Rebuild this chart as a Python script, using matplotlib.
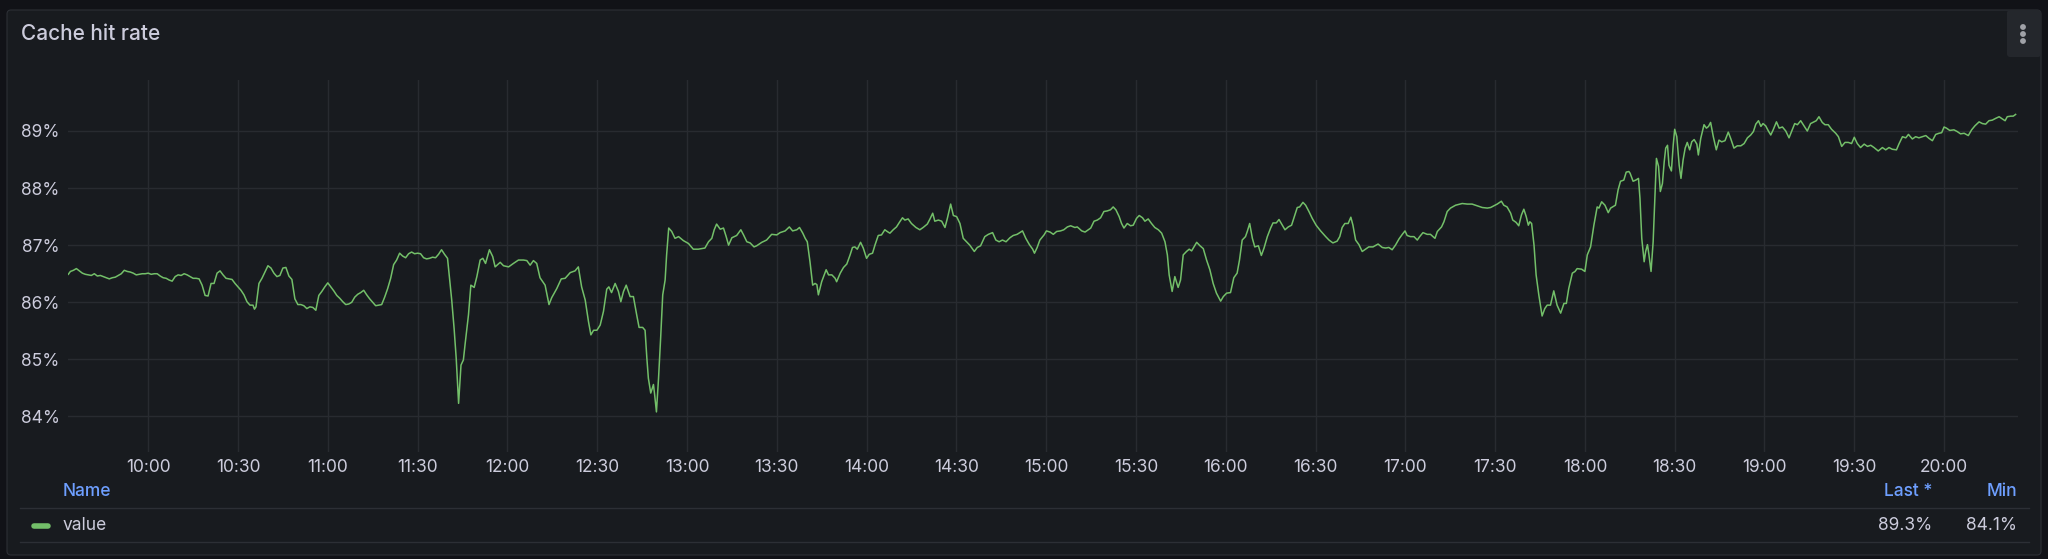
import matplotlib.pyplot as plt
import matplotlib.dates as mdates
import pandas as pd
from matplotlib.patches import FancyBboxPatch
from matplotlib.ticker import FixedLocator, FuncFormatter

plt.rcParams["font.family"] = ["Inter", "DejaVu Sans"]

title = "Cache hit rate"
series_name = "value"
day_start = pd.Timestamp("2024-01-01 10:00")

# minutes relative to 10:00
minutes_from_10 = [
    -26.7, -26, -25, -24, -23, -22, -21, -20, -19, -18, -17, -16, -15, -14, -13, -12, -11, -10, -9, -8,
    -7, -6, -5, -4, -3, -2, -1, 0, 1, 2, 3, 4, 5, 6, 7, 8, 9, 10, 11, 12,
    13, 14, 15, 16, 17, 18, 19, 20, 21, 22, 23, 24, 25, 26, 27, 28, 29, 30, 31, 32,
    33, 34, 35, 35.5, 36, 37, 38, 39, 40, 41, 42, 43, 44, 45, 46, 47, 48, 49, 50, 51,
    52, 53, 54, 55, 56, 57, 58, 59, 60, 61, 62, 63, 64, 65, 66, 67, 68, 69, 70, 71,
    72, 73, 74, 75, 76, 77, 78, 79, 80, 81, 82, 83, 84, 85, 86, 87, 88, 89, 90, 91,
    92, 93, 94, 95, 96, 97, 98, 99, 100,
    101.4, 102.2, 102.9, 103.7, 104.5, 105.3, 105.9, 107.0, 107.8, 108.9,
    109.8, 110.9, 111.8, 112.7, 114.0, 115.1, 115.9, 117.6, 118.7, 120.4,
    122.0, 123.7, 125.4, 126.5, 127.6, 128.7, 129.8, 130.9, 132.6, 133.9,
    134.8, 136.5, 138.0, 139.3, 141.0, 142.6, 143.7, 144.8, 146.0, 147.1,
    147.9, 148.8, 149.9, 151.0, 152.1, 153.2, 153.9, 154.8, 156.0, 157.1,
    157.9, 158.8, 159.7, 161.0, 162.1, 163.2, 164.0, 165.2, 166.0, 166.6,
    167.1, 167.9, 168.8, 169.2, 169.8, 170.5, 171.2, 171.9, 172.7, 173.2,
    173.9, 174.9, 176.0, 177.2, 178.8, 180.5, 182.1, 183.8, 186.0, 187.2,
    188.3, 189.1, 189.9, 191.1, 192.2, 193.1, 193.9, 195.0, 196.6, 198.0,
    198.9, 200.0, 201.1, 202.4, 203.3, 205.0, 206.6, 208.3, 210.0, 211.1,
    212.8, 214.2, 215.3, 216.7, 217.6, 218.7, 219.5, 220.2, 221.1, 222.0,
    222.8, 223.4, 223.9, 225.0, 226.5, 227.3, 228.4, 229.5, 230.0, 231.2,
    232.3, 233.4, 234.5,
    235.3, 236.1, 236.9, 238.0, 238.9, 240.0, 240.9, 242.0, 242.8, 243.9,
    245.0, 246.1, 246.9, 247.8, 248.9, 250.0, 251.1, 252.0, 252.8, 253.9,
    255.0, 256.5, 257.8, 258.9, 260.3, 261.2, 262.1, 262.8, 264.0, 265.1,
    266.2, 267.0, 268.1, 269.0, 270.1, 271.2, 272.3, 273.4, 274.5, 276.0,
    277.0, 278.1, 279.5, 280.7, 282.1, 283.2, 284.3, 285.4, 286.6, 287.9,
    289.0, 290.3, 291.2, 292.1, 293.2, 294.4, 295.5, 296.1, 297.0, 297.9,
    299.3, 300.1, 301.3, 302.4, 303.5, 304.8, 305.9, 307.1, 308.2, 309.6,
    310.4, 311.9, 313.0, 314.1, 314.9, 316.0, 317.1, 318.2, 319.3, 320.4,
    321.5, 322.4, 323.3, 324.4, 325.2, 326.0, 327.1, 328.2, 329.1, 330.2,
    331.1, 332.2, 333.0, 334.1, 335.2, 336.3, 337.5, 338.6, 339.7, 340.5,
    341.1, 342.1, 343.0, 344.1, 344.9, 345.8, 346.9, 347.8, 348.6, 349.4,
    350.3, 351.4, 352.5, 353.6, 354.7, 355.8, 356.9, 358.3, 359.2, 360.3,
    361.6,
    362.7, 363.8, 364.6, 365.5, 366.6, 367.2, 368.0, 368.9, 369.7, 370.9,
    371.9, 372.8, 373.9, 375.0, 375.8, 376.9, 377.8, 378.7, 379.8, 380.9,
    382.0, 383.1, 383.9, 384.7, 385.8, 386.7, 387.8, 388.9, 390.2, 391.7,
    393.4, 394.5, 395.8, 397.2, 398.1, 398.9, 399.8, 400.9, 401.8, 402.5,
    403.4, 404.5, 405.6, 406.7, 407.8, 409.2, 410.9, 412.3, 413.4, 414.5,
    415.6, 416.7, 417.9, 419.0, 419.9, 420.6, 421.7, 422.9, 424.0, 424.8,
    425.9, 427.3, 428.4, 429.9, 430.7, 432.1, 432.9, 434.0, 435.1, 436.8,
    439.0, 440.7, 442.3, 444.0, 445.7, 447.4, 448.5, 449.6, 450.7, 452.1,
    452.9, 454.0, 455.2, 455.9, 457.0, 457.9, 458.8, 459.6, 460.4, 461.1,
    461.6, 462.2, 463.0, 463.7, 464.6, 465.7, 466.6, 467.4, 468.5, 469.6,
    470.7, 471.9, 473.0, 473.8, 474.6, 475.8, 476.7, 477.4, 478.9, 480.0,
    480.8, 481.9, 483.0, 484.1, 484.7, 485.6, 486.7, 487.8, 488.6, 490.2,
    491.1, 491.9, 493.0, 493.8, 494.7,
    495.1, 496.1, 497.0, 497.9, 498.4, 499.0, 499.8, 500.3, 500.9, 501.4,
    502.1, 502.8, 503.2, 503.9, 504.6, 505.2, 505.9, 506.5, 507.0, 507.6,
    508.1, 508.9, 509.5, 510.0, 510.7, 511.5, 512.1, 512.8, 513.5, 514.2,
    515.0, 515.7, 516.5, 517.4, 517.9, 518.7, 519.8, 520.6, 521.3, 522.0,
    522.9, 523.9, 524.8, 525.7, 526.8, 527.9, 528.7, 529.8, 530.9, 532.1,
    533.2, 534.3, 535.4, 536.3, 537.1, 538.0, 538.8, 539.5, 540.4, 541.3,
    542.1, 542.9, 544.0, 544.9, 546.0, 547.1, 548.2, 549.1, 550.1, 551.0,
    552.1, 553.2, 554.3, 555.4, 556.5, 557.3, 558.2, 559.3, 560.2, 561.3,
    562.4, 563.8, 564.7, 565.8, 566.9, 568.0, 569.1, 570.0, 571.0, 572.1,
    573.3, 574.4, 575.5, 576.6, 578.0, 579.4, 580.5, 581.6, 582.7, 584.1,
    584.9, 586.1, 587.2, 588.1, 589.4, 590.5, 591.6, 592.7, 593.9, 595.0,
    596.1, 597.2, 598.3, 599.2, 600.0, 600.8, 601.9, 603.3, 604.4, 605.5,
    606.7, 608.1, 609.2, 610.3, 611.7, 612.8, 613.9, 615.0, 616.1, 617.2,
    618.4, 619.5, 620.4, 621.1, 622.3, 623.1, 623.9,
]

# cache hit rate in percent
hit_rate = [
    86.49, 86.54, 86.56, 86.59, 86.55, 86.51, 86.49, 86.48, 86.47, 86.50, 86.46, 86.47, 86.45, 86.43, 86.41, 86.43, 86.44, 86.47, 86.50, 86.56,
    86.54, 86.53, 86.51, 86.48, 86.49, 86.50, 86.50, 86.51, 86.49, 86.50, 86.50, 86.46, 86.43, 86.42, 86.39, 86.37, 86.45, 86.48, 86.47, 86.50,
    86.48, 86.45, 86.42, 86.42, 86.41, 86.30, 86.12, 86.11, 86.33, 86.33, 86.51, 86.55, 86.48, 86.42, 86.41, 86.40, 86.33, 86.27, 86.21, 86.13,
    86.01, 85.95, 85.95, 85.88, 85.92, 86.33, 86.42, 86.53, 86.64, 86.60, 86.51, 86.45, 86.47, 86.60, 86.61, 86.46, 86.40, 86.06, 85.96, 85.96,
    85.94, 85.89, 85.92, 85.91, 85.86, 86.12, 86.19, 86.27, 86.34, 86.27, 86.20, 86.12, 86.07, 86.01, 85.96, 85.97, 86.00, 86.09, 86.14, 86.17,
    86.21, 86.13, 86.06, 86.00, 85.94, 85.95, 85.96, 86.09, 86.24, 86.42, 86.66, 86.74, 86.86, 86.81, 86.78, 86.85, 86.88, 86.85, 86.86, 86.85,
    86.78, 86.76, 86.77, 86.79, 86.78, 86.84, 86.92, 86.84, 86.77,
    86.04, 85.54, 85.02, 84.23, 84.90, 84.99, 85.28, 85.78, 86.30, 86.26,
    86.45, 86.74, 86.77, 86.68, 86.92, 86.80, 86.62, 86.70, 86.64, 86.62,
    86.68, 86.74, 86.74, 86.73, 86.65, 86.73, 86.68, 86.43, 86.30, 85.96,
    86.08, 86.24, 86.41, 86.42, 86.52, 86.55, 86.62, 86.27, 86.04, 85.66,
    85.43, 85.51, 85.51, 85.60, 85.84, 86.23, 86.27, 86.17, 86.33, 86.19,
    86.01, 86.19, 86.30, 86.10, 86.10, 85.78, 85.56, 85.56, 85.51, 85.02,
    84.67, 84.41, 84.56, 84.38, 84.08, 84.67, 85.37, 86.13, 86.39, 86.83,
    87.30, 87.24, 87.12, 87.15, 87.08, 87.03, 86.93, 86.93, 86.95, 87.06,
    87.12, 87.27, 87.37, 87.28, 87.30, 87.15, 87.00, 87.13, 87.17, 87.27,
    87.18, 87.06, 87.04, 86.97, 86.99, 87.05, 87.09, 87.19, 87.18, 87.22,
    87.25, 87.32, 87.25, 87.27, 87.31, 87.21, 87.12, 87.06, 86.71, 86.30,
    86.33, 86.31, 86.13, 86.36, 86.57, 86.48, 86.48, 86.42, 86.36, 86.51,
    86.61, 86.67, 86.83,
    86.96, 86.97, 86.93, 87.05, 86.95, 86.77, 86.84, 86.86, 87.00, 87.17,
    87.18, 87.27, 87.24, 87.21, 87.27, 87.32, 87.41, 87.48, 87.44, 87.46,
    87.38, 87.31, 87.27, 87.31, 87.37, 87.46, 87.56, 87.42, 87.44, 87.42,
    87.31, 87.47, 87.72, 87.52, 87.50, 87.38, 87.12, 87.06, 87.00, 86.89,
    86.96, 86.99, 87.15, 87.19, 87.22, 87.09, 87.06, 87.09, 87.06, 87.13,
    87.17, 87.19, 87.22, 87.25, 87.12, 87.01, 86.93, 86.86, 86.96, 87.09,
    87.18, 87.25, 87.23, 87.19, 87.24, 87.25, 87.27, 87.32, 87.34, 87.31,
    87.32, 87.25, 87.23, 87.27, 87.30, 87.42, 87.44, 87.48, 87.59, 87.60,
    87.62, 87.67, 87.62, 87.50, 87.38, 87.30, 87.38, 87.34, 87.35, 87.47,
    87.52, 87.48, 87.42, 87.46, 87.38, 87.31, 87.27, 87.21, 87.06, 86.83,
    86.48, 86.19, 86.45, 86.26, 86.39, 86.83, 86.89, 86.93, 86.90, 86.97,
    87.05, 86.99, 86.94, 86.74, 86.57, 86.33, 86.16, 86.02, 86.10, 86.16,
    86.17,
    86.43, 86.51, 86.74, 87.09, 87.15, 87.24, 87.38, 87.12, 86.97, 86.99,
    86.82, 86.95, 87.15, 87.30, 87.39, 87.39, 87.45, 87.37, 87.27, 87.32,
    87.35, 87.53, 87.66, 87.67, 87.75, 87.70, 87.59, 87.47, 87.35, 87.25,
    87.15, 87.09, 87.04, 87.07, 87.15, 87.31, 87.38, 87.38, 87.49, 87.35,
    87.09, 87.01, 86.89, 86.93, 86.97, 86.97, 87.02, 86.96, 86.95, 86.96,
    86.92, 87.00, 87.11, 87.19, 87.25, 87.17, 87.15, 87.15, 87.09, 87.15,
    87.22, 87.19, 87.19, 87.12, 87.24, 87.32, 87.41, 87.59, 87.65, 87.70,
    87.73, 87.72, 87.72, 87.69, 87.66, 87.65, 87.66, 87.69, 87.72, 87.77,
    87.70, 87.67, 87.56, 87.44, 87.40, 87.34, 87.53, 87.63, 87.50, 87.35,
    87.41, 87.38, 87.00, 86.48, 86.13, 85.76, 85.89, 85.95, 85.95, 86.20,
    85.95, 85.81, 85.98, 85.98, 86.24, 86.51, 86.54, 86.59, 86.58, 86.54,
    86.83, 86.97, 87.35, 87.67, 87.65, 87.76, 87.70, 87.57, 87.65, 87.70,
    87.97, 88.12, 88.14, 88.28, 88.29,
    88.26, 88.12, 88.14, 88.17, 87.82, 87.12, 86.71, 86.89, 87.01, 86.83,
    86.54, 87.06, 87.59, 88.52, 88.38, 87.94, 88.08, 88.46, 88.70, 88.75,
    88.40, 88.30, 88.75, 89.03, 88.90, 88.40, 88.17, 88.49, 88.70, 88.80,
    88.67, 88.81, 88.85, 88.77, 88.58, 88.87, 89.11, 89.05, 89.08, 89.15,
    88.90, 88.67, 88.84, 88.81, 88.83, 88.98, 88.87, 88.70, 88.74, 88.74,
    88.78, 88.88, 88.93, 88.99, 89.12, 89.18, 89.08, 89.13, 89.09, 89.00,
    88.93, 89.02, 89.16, 89.05, 89.07, 89.00, 88.88, 89.00, 89.13, 89.11,
    89.18, 89.09, 89.00, 89.13, 89.16, 89.18, 89.25, 89.15, 89.11, 89.11,
    89.03, 88.96, 88.90, 88.73, 88.80, 88.80, 88.78, 88.89, 88.78, 88.71,
    88.77, 88.73, 88.75, 88.71, 88.65, 88.71, 88.67, 88.71, 88.68, 88.67,
    88.77, 88.90, 88.88, 88.94, 88.86, 88.90, 88.88, 88.90, 88.92, 88.87,
    88.83, 88.94, 88.96, 88.97, 89.07, 89.05, 89.01, 89.02, 88.99, 88.95,
    88.96, 88.92, 89.02, 89.09, 89.16, 89.13, 89.12, 89.18, 89.19, 89.22,
    89.25, 89.21, 89.18, 89.25, 89.26, 89.26, 89.29,
]

y_ticks = [84, 85, 86, 87, 88, 89]
view_start_min, view_end_min = -26.8, 624.7

BG_OUTER = "#111217"
BG_PANEL = "#181b1f"
BORDER = "#2c2f35"
GRID = "#282b30"
TEXT = "#ccccdc"
BLUE = "#6e9fff"
GREEN = "#73bf69"

W, H = 2048, 559
times = day_start + pd.to_timedelta(minutes_from_10, unit="min")


def fx(px):
    return px / W


def fy(py):
    return 1 - py / H


fig = plt.figure(figsize=(W / 100, H / 100), dpi=100, facecolor=BG_OUTER)

# panel card (inches, origin bottom-left)
panel = FancyBboxPatch((0.07, 0.04), 20.34, 5.45, boxstyle="round,pad=0,rounding_size=0.04",
                       transform=fig.dpi_scale_trans, facecolor=BG_PANEL, edgecolor=BORDER,
                       linewidth=0.8, zorder=-10)
fig.patches.append(panel)

# menu button top right
menu = FancyBboxPatch((20.07, 5.02), 0.34, 0.47, boxstyle="round,pad=0,rounding_size=0.03",
                      transform=fig.dpi_scale_trans, facecolor="#24272c", edgecolor="none", zorder=-9)
fig.patches.append(menu)
for py in (27, 34, 41):
    fig.add_artist(plt.Circle((20.23, (H - py) / 100), 0.022, transform=fig.dpi_scale_trans,
                              color="#a0a2a8"))

fig.text(fx(21), fy(34), title, color=TEXT, fontsize=15, fontweight="medium", va="center", ha="left")

ax = fig.add_axes([fx(68), fy(452), fx(2018) - fx(68), fy(80) - fy(452)])
ax.set_facecolor("none")
ax.plot(times, hit_rate, color=GREEN, linewidth=1.1)

ax.set_xlim(day_start + pd.Timedelta(minutes=view_start_min), day_start + pd.Timedelta(minutes=view_end_min))
ax.set_ylim(83.378, 89.893)
ax.yaxis.set_major_locator(FixedLocator(y_ticks))
ax.yaxis.set_major_formatter(FuncFormatter(lambda v, _: f"{v:.0f}%"))
ax.xaxis.set_major_locator(mdates.MinuteLocator(byminute=[0, 30]))
ax.xaxis.set_major_formatter(mdates.DateFormatter("%H:%M"))

ax.grid(True, color=GRID, linewidth=1)
ax.set_axisbelow(True)
for s in ax.spines.values():
    s.set_visible(False)
ax.tick_params(axis="both", length=0, colors=TEXT, labelsize=12.5)
ax.tick_params(axis="y", pad=6)
ax.tick_params(axis="x", pad=5)

# legend table
fig.text(fx(63), fy(492), "Name", color=BLUE, fontsize=12.5, fontweight="medium", va="center")
fig.text(fx(1932), fy(492), "Last *", color=BLUE, fontsize=12.5, fontweight="medium", va="center", ha="right")
fig.text(fx(2017), fy(492), "Min", color=BLUE, fontsize=12.5, fontweight="medium", va="center", ha="right")
for py in (508, 542):
    fig.add_artist(plt.Line2D([fx(20), fx(2029)], [fy(py), fy(py)], color=BORDER, linewidth=1))
fig.add_artist(plt.Line2D([fx(34), fx(48)], [fy(526), fy(526)], color=GREEN, linewidth=4,
                          solid_capstyle="round"))
fig.text(fx(63), fy(526), series_name, color=TEXT, fontsize=12.5, va="center")
fig.text(fx(1932), fy(526), f"{hit_rate[-1]:.1f}%", color=TEXT, fontsize=12.5, va="center", ha="right")
fig.text(fx(2017), fy(526), f"{min(hit_rate):.1f}%", color=TEXT, fontsize=12.5, va="center", ha="right")

fig.savefig("out.png", dpi=100, facecolor=BG_OUTER)
